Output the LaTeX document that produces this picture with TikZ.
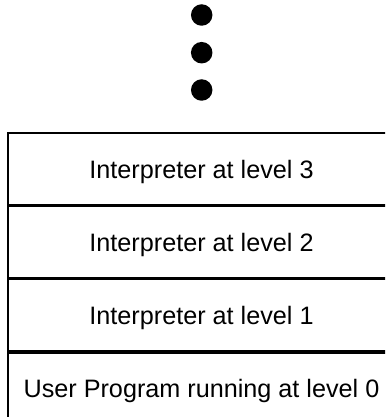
\documentclass[tikz,border=0pt]{standalone}
\usepackage{fontspec}
\setmainfont{Liberation Sans}
\usetikzlibrary{positioning}

\begin{document}
\begin{tikzpicture}[
    x=1pt, y=-1pt,
    level/.style={draw, line width=1.6pt, minimum width=387pt, minimum height=71.6pt,
        inner sep=0pt, text depth=0pt, font=\fontsize{25.2}{30}\selectfont},
    dot/.style={circle, fill=black, minimum size=21.5pt, inner sep=0pt}
]

    % Page the size of the reference
    \useasboundingbox (0,0) rectangle (385,417);
    \clip (0,0) rectangle (385,417);

    % Vertical ellipsis above the stack
    \foreach \i/\y in {1/15, 2/52.7, 3/90} {
        \node[dot] (d\i) at (201.7,\y) {};
    }

    % Stack of levels
    \node[level] (lev3) at (201.5,169) {Interpreter at level 3};
    \node[level, below=0pt of lev3] (lev2) {Interpreter at level 2};
    \node[level, below=0pt of lev2] (lev1) {Interpreter at level 1};
    \node[level, below=0pt of lev1] (lev0) {User Program running at level 0};

\end{tikzpicture}
\end{document}
